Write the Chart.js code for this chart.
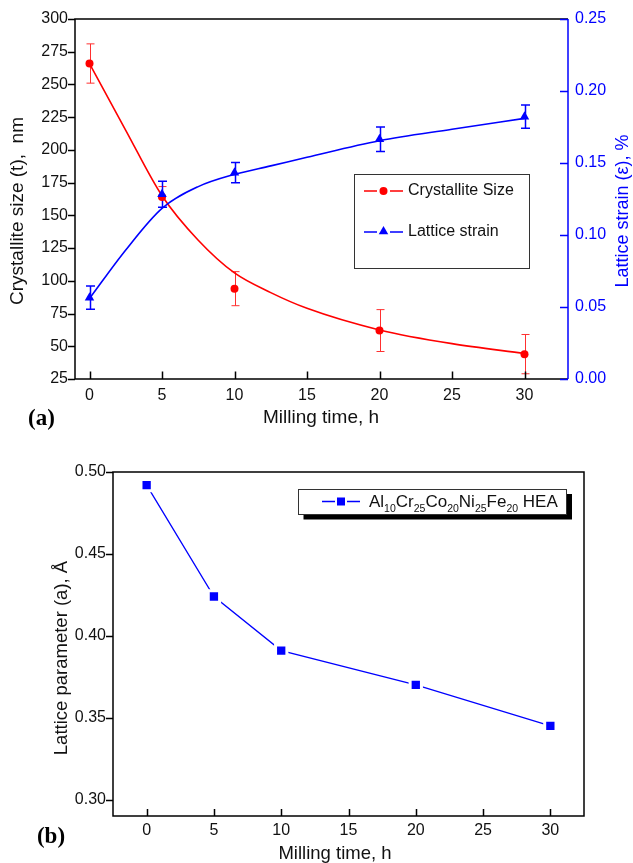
<!DOCTYPE html>
<html lang="en">
<head>
<meta charset="UTF-8">
<title>Milling time vs crystallite size, lattice strain and lattice parameter</title>
<style>
  body{margin:0;background:#fff;}
  #wrap{position:relative;width:633px;height:863px;}
  #c1{position:absolute;left:0;top:0;}
  #c2{position:absolute;left:0;top:440px;}
</style>
<script src="https://cdn.jsdelivr.net/npm/chart.js"></script>
</head>
<body>
<div id="wrap">
  <canvas id="c1" width="633" height="440"></canvas>
  <canvas id="c2" width="633" height="423"></canvas>
</div>
<script>
/* ===== Data: panel (a) ===== */
const timeH      = [0, 5, 10, 20, 30];
const crystSize  = [266, 164, 94, 62, 44];
const crystErr   = [15, 8, 13, 16, 15];
const strain     = [0.0565, 0.1283, 0.1433, 0.1665, 0.1822];
const strainErr  = [0.008, 0.009, 0.007, 0.0085, 0.008];
// fitted curves
const fitTime    = [0, 2.5, 5, 7.5, 10, 12.5, 15, 20, 25, 30];
const sizeFit    = [266, 215, 165, 131, 106, 91, 79, 62.5, 52, 44.5];
const strainFit  = [0.0559, 0.0896, 0.1185, 0.1336, 0.1421, 0.148, 0.154, 0.1655, 0.1734, 0.181];
const xTicksA    = [0, 5, 10, 15, 20, 25, 30];
const sizeTicks  = [25, 50, 75, 100, 125, 150, 175, 200, 225, 250, 275, 300];
const strainTicks= [0, 0.05, 0.10, 0.15, 0.20, 0.25];

/* ===== Data: panel (b) ===== */
const latticeParam = [0.492, 0.424, 0.391, 0.370, 0.345];
const xTicksB      = [0, 5, 10, 15, 20, 25, 30];
const paramTicks   = [0.30, 0.35, 0.40, 0.45, 0.50];
const legendB      = [['Al',0],['10',1],['Cr',0],['25',1],['Co',0],['20',1],['Ni',0],['25',1],['Fe',0],['20',1],[' HEA',0]];

/* ===== Style ===== */
const FONT = '"Liberation Sans", Arial, sans-serif';
const RED = '#ff0000', BLUE = '#0000ff', INK = '#111';

/* ===== Helpers ===== */
const pts = (xs, ys) => xs.map((x, i) => ({x, y: ys[i]}));
const setTicks = list => s => { s.ticks = list.map(v => ({value: v})); };
const fixW = w => s => { s.width = w; };
const fixH = h => s => { s.height = h; };
const tickFont = {family: FONT, size: 16};

function tickMarks(ctx, scale, len, side, color){
  const a = scale.chart.chartArea;
  ctx.strokeStyle = color; ctx.lineWidth = 1.5; ctx.beginPath();
  scale.ticks.forEach(t => {
    const p = Math.round(scale.getPixelForValue(t.value)) + 0.5;
    if (side === 'bottom'){ ctx.moveTo(p, a.bottom); ctx.lineTo(p, a.bottom - len); }
    else if (side === 'left'){ ctx.moveTo(a.left, p); ctx.lineTo(a.left - len, p); }
    else { ctx.moveTo(a.right, p); ctx.lineTo(a.right - len, p); }
  });
  ctx.stroke();
}
function vText(ctx, txt, x, y, font, color){
  ctx.save(); ctx.translate(x, y); ctx.rotate(-Math.PI / 2);
  ctx.font = font; ctx.fillStyle = color; ctx.textAlign = 'center'; ctx.textBaseline = 'middle';
  ctx.fillText(txt, 0, 0); ctx.restore();
}
function hText(ctx, txt, x, y, font, color, align){
  ctx.font = font; ctx.fillStyle = color; ctx.textAlign = align || 'center'; ctx.textBaseline = 'middle';
  ctx.fillText(txt, x, y);
}
function errBars(ctx, xs, ys, es, xScale, yScale, color, width, cap){
  ctx.strokeStyle = color; ctx.lineWidth = width; ctx.beginPath();
  xs.forEach((x, i) => {
    const px = Math.round(xScale.getPixelForValue(x)) + 0.5;
    const y1 = yScale.getPixelForValue(ys[i] + es[i]), y2 = yScale.getPixelForValue(ys[i] - es[i]);
    ctx.moveTo(px, y1); ctx.lineTo(px, y2);
    ctx.moveTo(px - cap, y1); ctx.lineTo(px + cap, y1);
    ctx.moveTo(px - cap, y2); ctx.lineTo(px + cap, y2);
  });
  ctx.stroke();
}
function triangle(ctx, x, y, r){
  ctx.beginPath(); ctx.moveTo(x, y - r);
  ctx.lineTo(x + 0.866 * r, y + 0.5 * r); ctx.lineTo(x - 0.866 * r, y + 0.5 * r);
  ctx.closePath(); ctx.fill();
}

/* ===== Panel (a) ===== */
const decorA = {
  id: 'decorA',
  beforeDatasetsDraw(chart){
    const {ctx, scales} = chart;
    ctx.save();
    errBars(ctx, timeH, crystSize, crystErr, scales.x, scales.y, '#ff3030', 1, 4);
    errBars(ctx, timeH, strain, strainErr, scales.x, scales.y2, BLUE, 1.5, 4.5);
    ctx.restore();
  },
  afterDraw(chart){
    const {ctx, chartArea: a, scales} = chart;
    ctx.save();
    ctx.lineWidth = 1.5; ctx.strokeStyle = '#000'; ctx.beginPath();
    ctx.moveTo(a.right, a.top); ctx.lineTo(a.left, a.top); ctx.lineTo(a.left, a.bottom); ctx.lineTo(a.right, a.bottom);
    ctx.stroke();
    ctx.strokeStyle = BLUE; ctx.beginPath(); ctx.moveTo(a.right, a.top); ctx.lineTo(a.right, a.bottom); ctx.stroke();
    tickMarks(ctx, scales.x, 7.5, 'bottom', '#000');
    tickMarks(ctx, scales.y, 7, 'left', '#000');
    tickMarks(ctx, scales.y2, 8, 'right', BLUE);

    vText(ctx, 'Crystallite size (t),  nm', 18, 211, '19px ' + FONT, INK);
    vText(ctx, 'Lattice strain (\u03b5), %', 623, 211, '18px ' + FONT, BLUE);
    hText(ctx, 'Milling time, h', 321, 418, '19px ' + FONT, INK);
    hText(ctx, '(a)', 41.5, 419, 'bold 23px "Liberation Serif", "Times New Roman", serif', '#000');

    // legend
    ctx.lineWidth = 1; ctx.strokeStyle = '#333'; ctx.strokeRect(354.5, 174.5, 175, 94);
    const rows = [{y: 191, c: RED, t: 'Crystallite Size', m: 'circle'}, {y: 232, c: BLUE, t: 'Lattice strain', m: 'tri'}];
    rows.forEach(r => {
      ctx.strokeStyle = r.c; ctx.fillStyle = r.c; ctx.lineWidth = 1.5;
      ctx.beginPath(); ctx.moveTo(364, r.y); ctx.lineTo(377, r.y); ctx.moveTo(390, r.y); ctx.lineTo(403, r.y); ctx.stroke();
      if (r.m === 'circle'){ ctx.beginPath(); ctx.arc(383.5, r.y, 4, 0, Math.PI * 2); ctx.fill(); }
      else triangle(ctx, 383.5, r.y - 0.5, 5.5);
      hText(ctx, r.t, 408, r.y, '16px ' + FONT, INK, 'left');
    });
    ctx.restore();
  }
};

new Chart(document.getElementById('c1'), {
  type: 'scatter',
  data: {datasets: [
    {label: 'Lattice strain', data: pts(timeH, strain), yAxisID: 'y2', pointStyle: 'triangle', pointRadius: 5.5,
     backgroundColor: BLUE, borderColor: BLUE, borderWidth: 0, order: 0},
    {label: 'Crystallite Size', data: pts(timeH, crystSize), yAxisID: 'y', pointStyle: 'circle', pointRadius: 4,
     backgroundColor: RED, borderColor: RED, borderWidth: 0, order: 1},
    {label: 'strain fit', data: pts(fitTime, strainFit), yAxisID: 'y2', showLine: true, pointRadius: 0,
     borderColor: BLUE, borderWidth: 1.6, cubicInterpolationMode: 'monotone', order: 2},
    {label: 'size fit', data: pts(fitTime, sizeFit), yAxisID: 'y', showLine: true, pointRadius: 0,
     borderColor: RED, borderWidth: 1.6, cubicInterpolationMode: 'monotone', order: 3}
  ]},
  options: {
    responsive: false, animation: false,
    layout: {padding: {top: 19, left: 0, right: 0, bottom: 0}},
    plugins: {legend: {display: false}, tooltip: {enabled: false}},
    scales: {
      x: {type: 'linear', min: -1, max: 33, afterBuildTicks: setTicks(xTicksA), afterFit: fixH(61),
          grid: {display: false, drawTicks: false}, border: {display: false},
          ticks: {padding: 7, color: INK, font: tickFont, maxRotation: 0}},
      y: {position: 'left', min: 25, max: 300, afterBuildTicks: setTicks(sizeTicks), afterFit: fixW(75),
          grid: {display: false, drawTicks: false}, border: {display: false},
          ticks: {padding: 7, color: INK, font: tickFont}},
      y2: {position: 'right', min: 0, max: 0.25, afterBuildTicks: setTicks(strainTicks), afterFit: fixW(65),
          grid: {display: false, drawTicks: false}, border: {display: false},
          ticks: {padding: 7, color: BLUE, font: tickFont, callback: v => v.toFixed(2)}}
    }
  },
  plugins: [decorA]
});

/* ===== Panel (b) ===== */
const decorB = {
  id: 'decorB',
  afterDraw(chart){
    const {ctx, chartArea: a, scales} = chart;
    ctx.save();
    ctx.lineWidth = 1.5; ctx.strokeStyle = '#000';
    ctx.strokeRect(a.left, a.top, a.right - a.left, a.bottom - a.top);
    tickMarks(ctx, scales.x, 7, 'bottom', '#000');
    tickMarks(ctx, scales.y, 7, 'left', '#000');

    vText(ctx, 'Lattice parameter (a), \u00c5', 61.5, 218, '18.5px ' + FONT, INK);
    hText(ctx, 'Milling time, h', 335, 414, '18.5px ' + FONT, INK);
    hText(ctx, '(b)', 51, 397, 'bold 23px "Liberation Serif", "Times New Roman", serif', '#000');

    // legend with shadow
    ctx.fillStyle = '#000'; ctx.fillRect(303.5, 54, 268.5, 25.5);
    ctx.fillStyle = '#fff'; ctx.fillRect(298.5, 49, 268.5, 25.5);
    ctx.lineWidth = 1; ctx.strokeStyle = '#333'; ctx.strokeRect(298.5, 49.5, 268, 25);
    ctx.strokeStyle = BLUE; ctx.lineWidth = 1.5; ctx.beginPath();
    ctx.moveTo(322, 61.5); ctx.lineTo(335, 61.5); ctx.moveTo(347, 61.5); ctx.lineTo(360, 61.5); ctx.stroke();
    ctx.fillStyle = BLUE; ctx.fillRect(337, 57.5, 8, 8);
    let x = 369;
    ctx.fillStyle = INK; ctx.textAlign = 'left'; ctx.textBaseline = 'alphabetic';
    legendB.forEach(([t, sub]) => {
      ctx.font = (sub ? '10.5px ' : '17px ') + FONT;
      ctx.fillText(t, x, sub ? 72 : 67);
      x += ctx.measureText(t).width;
    });
    ctx.restore();
  }
};

new Chart(document.getElementById('c2'), {
  type: 'scatter',
  data: {datasets: [
    {label: 'Al10Cr25Co20Ni25Fe20 HEA', data: pts(timeH, latticeParam), showLine: true,
     borderColor: BLUE, borderWidth: 1.3, tension: 0,
     pointStyle: 'rect', pointRadius: 8, pointBackgroundColor: BLUE, pointBorderColor: '#fff', pointBorderWidth: 3}
  ]},
  options: {
    responsive: false, animation: false,
    layout: {padding: {top: 32, left: 0, right: 49, bottom: 0}},
    plugins: {legend: {display: false}, tooltip: {enabled: false}},
    scales: {
      x: {type: 'linear', min: -2.5, max: 32.5, afterBuildTicks: setTicks(xTicksB), afterFit: fixH(47),
          grid: {display: false, drawTicks: false}, border: {display: false},
          ticks: {padding: 5, color: INK, font: tickFont, maxRotation: 0}},
      y: {position: 'left', min: 0.29, max: 0.50, afterBuildTicks: setTicks(paramTicks), afterFit: fixW(113),
          grid: {display: false, drawTicks: false}, border: {display: false},
          ticks: {padding: 7, color: INK, font: tickFont, callback: v => v.toFixed(2)}}
    }
  },
  plugins: [decorB]
});
</script>
</body>
</html>
